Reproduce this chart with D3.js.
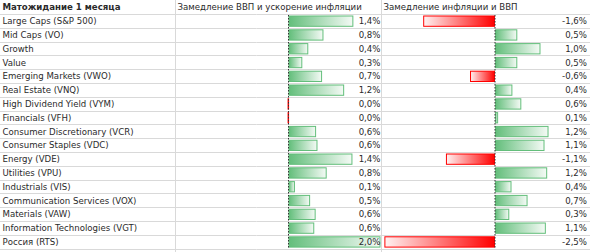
<!DOCTYPE html>
<html><head><meta charset="utf-8">
<script src="https://cdn.jsdelivr.net/npm/d3@7"></script>
<style>
html,body{margin:0;padding:0;background:#fff;}
svg{display:block;}
text{font-family:"DejaVu Sans",sans-serif;fill:#2a2a2a;}
</style></head><body>
<svg id="c" width="590" height="252"></svg>
<script>
const headers = ["Матожидание 1 месяца", "Замедление ВВП и ускорение инфляции", "Замедление инфляции и ВВП"];
const categories = ["Large Caps (S&P 500)", "Mid Caps (VO)", "Growth", "Value", "Emerging Markets (VWO)", "Real Estate (VNQ)", "High Dividend Yield (VYM)", "Financials (VFH)", "Consumer Discretionary (VCR)", "Consumer Staples (VDC)", "Energy (VDE)", "Utilities (VPU)", "Industrials (VIS)", "Communication Services (VOX)", "Materials (VAW)", "Information Technologies (VGT)", "Россия (RTS)"];
const gdpDownInflUp = [1.41, 0.76, 0.43, 0.30, 0.73, 1.21, -0.02, -0.02, 0.60, 0.63, 1.39, 0.83, 0.14, 0.47, 0.59, 0.56, 2.0];
const inflDownGdpDown = [-1.61, 0.50, 1.02, 0.50, -0.56, 0.39, 0.59, 0.07, 1.20, 1.11, -1.10, 1.17, 0.37, 0.73, 0.32, 1.14, -2.48];

const W = 590, H = 252;
const svg = d3.select("#c");
const colB = 175.5, colC = 381.5;
const headH = 14;
const rowH = 13.8;
const y = d3.scaleBand().domain(categories).range([headH, headH + categories.length * rowH]).padding(0);

const defs = svg.append("defs");
const gG = defs.append("linearGradient").attr("id", "gGreen").attr("x1", 0).attr("x2", 1).attr("y1", 0).attr("y2", 0);
gG.append("stop").attr("offset", 0).attr("stop-color", "#63BE7B");
gG.append("stop").attr("offset", 1).attr("stop-color", "#F4FAF5");
const gR = defs.append("linearGradient").attr("id", "gRed").attr("x1", 1).attr("x2", 0).attr("y1", 0).attr("y2", 0);
gR.append("stop").attr("offset", 0).attr("stop-color", "#FF0000");
gR.append("stop").attr("offset", 1).attr("stop-color", "#FFF2F2");

// grid
const gridY = [headH].concat(categories.map(c => y(c) + y.bandwidth()));
svg.append("g").selectAll("line").data(gridY).join("line")
  .attr("x1", 0).attr("x2", W).attr("y1", d => Math.round(d) + 0.5).attr("y2", d => Math.round(d) + 0.5)
  .attr("stroke", "#d9d9d9").attr("stroke-width", 1);
svg.append("g").selectAll("line").data([colB, colC]).join("line")
  .attr("x1", d => d).attr("x2", d => d).attr("y1", 0).attr("y2", H)
  .attr("stroke", "#d9d9d9").attr("stroke-width", 1);

const xB = d3.scaleLinear().domain([0, 2]).range([288.5, 380.5]);
const xC = d3.scaleLinear().domain([-2.5, 0]).range([383.5, 495]);

const fmt = v => {
  const r = Math.round(v * 10) / 10;
  return (r === 0 ? 0 : r).toFixed(1).replace(".", ",") + "%";
};

function bars(data, x, labelX) {
  const g = svg.append("g");
  const rows = data.map((v, i) => ({v, c: categories[i]}));
  g.selectAll("rect").data(rows).join("rect")
    .attr("x", d => Math.min(x(0), x(d.v)) + 0.5)
    .attr("y", d => y(d.c) + 2)
    .attr("width", d => Math.max(Math.abs(x(d.v) - x(0)) - 1, 0.5))
    .attr("height", y.bandwidth() - 3.5)
    .attr("fill", d => d.v >= 0 ? "url(#gGreen)" : "url(#gRed)")
    .attr("stroke", d => d.v >= 0 ? "#63BE7B" : "#FF0000")
    .attr("stroke-width", 1);
  g.append("line").attr("x1", x(0)).attr("x2", x(0))
    .attr("y1", headH + 1).attr("y2", y.range()[1])
    .attr("stroke", "#333").attr("stroke-width", 1).attr("stroke-dasharray", "1.5,1.5");
  g.selectAll("text").data(rows).join("text")
    .attr("x", labelX).attr("y", d => y(d.c) + y.bandwidth() / 2 + 3.2)
    .attr("text-anchor", "end").attr("font-size", 8.6)
    .text(d => fmt(d.v));
}
bars(gdpDownInflUp, xB, 380.5);
bars(inflDownGdpDown, xC, 587);

// category labels
svg.append("g").selectAll("text").data(categories).join("text")
  .attr("x", 2.5).attr("y", d => y(d) + y.bandwidth() / 2 + 3.2)
  .attr("font-size", 8.6).text(d => d);

// headers
svg.append("g").selectAll("text").data(headers).join("text")
  .attr("x", (d, i) => [2.5, colB + 2, colC + 2][i]).attr("y", headH / 2 + 3.2)
  .attr("font-size", 8.6).attr("font-weight", (d, i) => i === 0 ? "bold" : "normal")
  .text(d => d);
</script>
</body></html>
